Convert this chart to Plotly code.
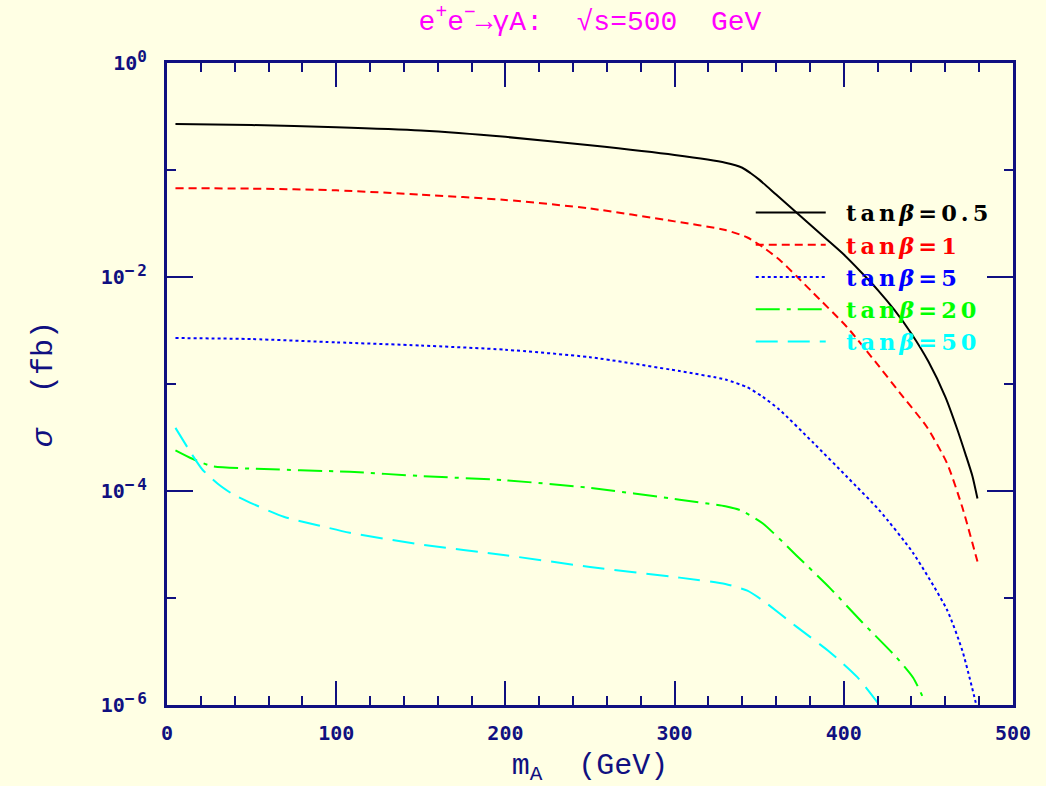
import plotly.graph_objects as go

# ---- data (sigma in fb vs m_A in GeV) ----
x_tb05 = [5, 50, 100, 150, 200, 250, 300, 330, 340, 345, 350, 360, 370, 380, 390, 400, 410, 420, 430, 440, 450,
          460, 467, 472, 476, 479]
y_tb05 = [0.269, 0.263, 0.251, 0.234, 0.204, 0.170, 0.138, 0.117, 0.105, 0.0933, 0.0813, 0.0589, 0.0427, 0.0309,
          0.0224, 0.0162, 0.0112, 0.00759, 0.0049, 0.00295, 0.00162, 0.000759, 0.00038, 0.000219, 0.000138, 8.5e-5]

x_tb1 = [5, 50, 100, 150, 200, 250, 300, 330, 343, 352, 362, 372, 382, 402, 421, 433, 449, 461, 470, 479]
y_tb1 = [0.0676, 0.067, 0.0646, 0.0589, 0.0525, 0.0437, 0.0331, 0.0275, 0.0234, 0.0191, 0.0145, 0.0102, 0.00708,
         0.00339, 0.00145, 0.000832, 0.000398, 0.000182, 7.08e-5, 2.19e-5]

x_tb5 = [5, 50, 100, 150, 200, 250, 303, 330, 343, 352, 362, 382, 402, 421, 441, 461, 470, 478]
y_tb5 = [2.69e-3, 2.63e-3, 2.45e-3, 2.29e-3, 2.09e-3, 1.78e-3, 1.32e-3, 1.10e-3, 9.3e-4, 7.6e-4, 5.75e-4, 2.82e-4,
         1.35e-4, 6.6e-5, 2.63e-5, 7.76e-6, 3.24e-6, 1.05e-6]

x_tb20 = [5, 15, 27, 49, 108, 150, 200, 250, 303, 330, 339, 352, 372, 392, 411, 431, 441, 448]
y_tb20 = [2.40e-4, 2.00e-4, 1.70e-4, 1.62e-4, 1.51e-4, 1.38e-4, 1.26e-4, 1.07e-4, 8.3e-5, 7.2e-5, 6.6e-5, 5.0e-5,
          2.5e-5, 1.23e-5, 5.9e-6, 2.8e-6, 1.8e-6, 1.07e-6]

x_tb50 = [5, 14, 21, 30, 39, 49, 69, 89, 108, 150, 200, 250, 303, 330, 343, 352, 372, 392, 408, 420]
y_tb50 = [3.89e-4, 2.29e-4, 1.58e-4, 1.17e-4, 9.3e-5, 7.8e-5, 5.75e-5, 4.79e-5, 4.07e-5, 3.16e-5, 2.51e-5, 1.95e-5,
          1.55e-5, 1.35e-5, 1.17e-5, 9.5e-6, 5.4e-6, 3.1e-6, 1.82e-6, 1.05e-6]

series_names = ["0.5", "1", "5", "20", "50"]
series_colors = ["#000000", "#ff0000", "#0000ff", "#00ff00", "#00ffff"]
series_dash = ["solid", "8px,5px", "3px,3px", "24px,7px,4px,7px", "22px,10px"]

y_tickvals = [1e-6, 1e-4, 1e-2, 1]
y_exponents = ["\u22126", "\u22124", "\u22122", "0"]
y_ticktext = [f"10<sup><span style='font-size:16px;letter-spacing:3px'>{e}</span></sup>" for e in y_exponents]
y_minorvals = [1e-5, 1e-3, 1e-1]
x_tickvals = [0, 100, 200, 300, 400, 500]

NAVY = "#101080"
BG = "#ffffe4"

fig = go.Figure()
xs = [x_tb05, x_tb1, x_tb5, x_tb20, x_tb50]
ys = [y_tb05, y_tb1, y_tb5, y_tb20, y_tb50]
for xv, yv, nm, col, ds in zip(xs, ys, series_names, series_colors, series_dash):
    fig.add_trace(go.Scatter(
        x=xv, y=yv, mode="lines",
        line=dict(color=col, width=2, dash=ds, shape="spline", smoothing=0.6),
        name=(f"<span style='color:{col};letter-spacing:4px'>\u2002tan<i>\u03b2</i>=" + nm + "</span>"),
    ))

axis_common = dict(
    showline=True, linecolor=NAVY, linewidth=3, mirror="ticks",
    ticks="inside", tickcolor=NAVY, tickwidth=2,
    showgrid=False, zeroline=False, automargin=False,
    tickfont=dict(family="DejaVu Sans Mono", size=20, color=NAVY, weight="bold"),
)

fig.update_layout(
    width=1046, height=786,
    paper_bgcolor=BG, plot_bgcolor=BG,
    margin=dict(l=167, r=33, t=63, b=81),
    title=dict(
        text="e<sup>+</sup>e<sup>\u2212</sup>\u2192\u03b3A:  \u221as=500  GeV",
        xref="paper", x=0.5, xanchor="center", yref="container", y=0.974, yanchor="middle",
        font=dict(family="Liberation Mono", size=28, color="#ff00ff"),
    ),
    xaxis=dict(
        range=[0, 500], tickvals=x_tickvals, ticklen=24, ticklabelstandoff=8,
        minor=dict(dtick=20, ticks="inside", ticklen=9, tickcolor=NAVY, tickwidth=2),
        title=dict(text="m<sub>A</sub>  (GeV)", font=dict(family="Liberation Mono", size=30, color=NAVY), standoff=14),
        **axis_common,
    ),
    yaxis=dict(
        type="log", range=[-6, 0], tickvals=y_tickvals, ticktext=y_ticktext, ticklen=26, ticklabelstandoff=10,
        minor=dict(tickmode="array", tickvals=y_minorvals, ticks="inside", ticklen=9, tickcolor=NAVY, tickwidth=2),
        title=dict(text="<i>\u03c3</i>  (fb)", font=dict(family="Liberation Mono", size=30, color=NAVY), standoff=40),
        **axis_common,
    ),
    legend=dict(
        x=0.69, y=0.80, xanchor="left", yanchor="top",
        bgcolor="rgba(0,0,0,0)", borderwidth=0,
        font=dict(family="DejaVu Serif", size=22.5, weight="bold"),
        itemwidth=70, tracegroupgap=0,
    ),
    showlegend=True,
)

fig.write_html("out.html")
